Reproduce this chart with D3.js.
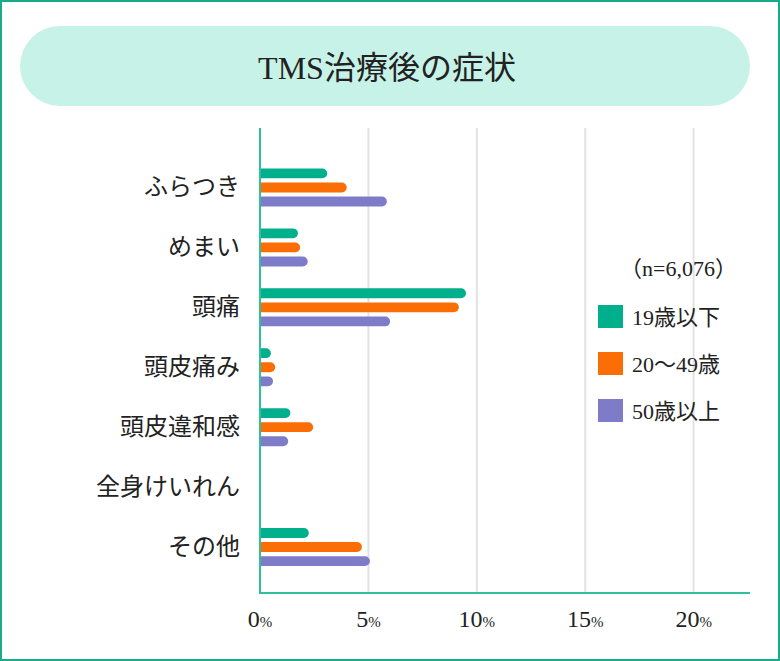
<!DOCTYPE html>
<html>
<head>
<meta charset="utf-8">
<script src="https://cdn.jsdelivr.net/npm/d3@7"></script>
<style>
  html, body { margin: 0; padding: 0; background: #fff; }
  svg { display: block; }
  text { font-family: "Liberation Serif", "DejaVu Serif", "Noto Sans CJK JP", serif; fill: #222; }
</style>
</head>
<body>
<div id="chart"></div>
<script>
// data
const categories = ["ふらつき", "めまい", "頭痛", "頭皮痛み", "頭皮違和感", "全身けいれん", "その他"];
const seriesNames = ["19歳以下", "20〜49歳", "50歳以上"];
const colors = ["#00b08c", "#fa6e05", "#7e7cc8"];
const under19 = [3.1, 1.75, 9.5, 0.5, 1.4, 0, 2.25];
const age20to49 = [4.0, 1.85, 9.17, 0.7, 2.45, 0, 4.7];
const over50 = [5.85, 2.2, 6.0, 0.6, 1.3, 0, 5.07];
const ticks = [0, 5, 10, 15, 20];

const width = 780, height = 661;
const svg = d3.select("#chart").append("svg")
    .attr("width", width)
    .attr("height", height);

// frame
svg.append("rect")
    .attr("x", 1).attr("y", 1)
    .attr("width", width - 2).attr("height", height - 2)
    .attr("fill", "#fff")
    .attr("stroke", "#1aaa8a")
    .attr("stroke-width", 2);

// title pill
svg.append("rect")
    .attr("x", 20).attr("y", 26)
    .attr("width", 730).attr("height", 80)
    .attr("rx", 40)
    .attr("fill", "#c7f2e7");
svg.append("text")
    .attr("x", 387).attr("y", 79)
    .attr("text-anchor", "middle")
    .attr("font-size", 32)
    .text("TMS治療後の症状");

const x = d3.scaleLinear().domain([0, 22.6]).range([260, 750]);
const y = d3.scaleBand().domain(categories).range([157.5, 577]);
const sub = d3.scaleBand().domain(d3.range(3)).range([-19, 19]).paddingInner(0.3);

// grid
svg.append("g").selectAll("line")
    .data(ticks.slice(1))
    .join("line")
    .attr("x1", d => x(d)).attr("x2", d => x(d))
    .attr("y1", 128).attr("y2", 593)
    .attr("stroke", "#e2e2e2")
    .attr("stroke-width", 2);

// bars
const rows = categories.map((c, i) => ({cat: c, vals: [under19[i], age20to49[i], over50[i]]}));
const groups = svg.append("g").selectAll("g")
    .data(rows)
    .join("g")
    .attr("transform", d => "translate(0," + (y(d.cat) + y.bandwidth() / 2) + ")");

groups.selectAll("path")
    .data(d => d.vals.map((v, j) => ({v, j})).filter(e => e.v > 0))
    .join("path")
    .attr("fill", d => colors[d.j])
    .attr("d", d => {
        const x0 = x(0), x1 = x(d.v);
        const y0 = sub(d.j), h = sub.bandwidth(), r = h / 2;
        return "M" + x0 + "," + y0 + "H" + (x1 - r) +
            "A" + r + "," + r + " 0 0 1 " + (x1 - r) + "," + (y0 + h) +
            "H" + x0 + "Z";
    });

// axes lines
svg.append("line")
    .attr("x1", 260).attr("x2", 260).attr("y1", 128).attr("y2", 594)
    .attr("stroke", "#2fbf9c").attr("stroke-width", 2);
svg.append("line")
    .attr("x1", 259).attr("x2", 750).attr("y1", 593).attr("y2", 593)
    .attr("stroke", "#2fbf9c").attr("stroke-width", 2);

// category labels
svg.append("g").selectAll("text")
    .data(categories)
    .join("text")
    .attr("x", 240)
    .attr("y", d => y(d) + y.bandwidth() / 2 + 8)
    .attr("text-anchor", "end")
    .attr("font-size", 24)
    .text(d => d);

// tick labels
const tl = svg.append("g").selectAll("text")
    .data(ticks)
    .join("text")
    .attr("x", d => x(d))
    .attr("y", 627)
    .attr("text-anchor", "middle");
tl.append("tspan").attr("font-size", 24).text(d => d);
tl.append("tspan").attr("font-size", 15).text("%");

// legend
svg.append("text")
    .attr("x", 620).attr("y", 276)
    .attr("font-size", 22)
    .text("（n=6,076）");

const legend = svg.append("g").selectAll("g")
    .data(seriesNames)
    .join("g")
    .attr("transform", (d, i) => "translate(598," + (305 + i * 47) + ")");
legend.append("rect")
    .attr("width", 25).attr("height", 23)
    .attr("fill", (d, i) => colors[i]);
legend.append("text")
    .attr("x", 34).attr("y", 20)
    .attr("font-size", 22)
    .text(d => d);
</script>
</body>
</html>
